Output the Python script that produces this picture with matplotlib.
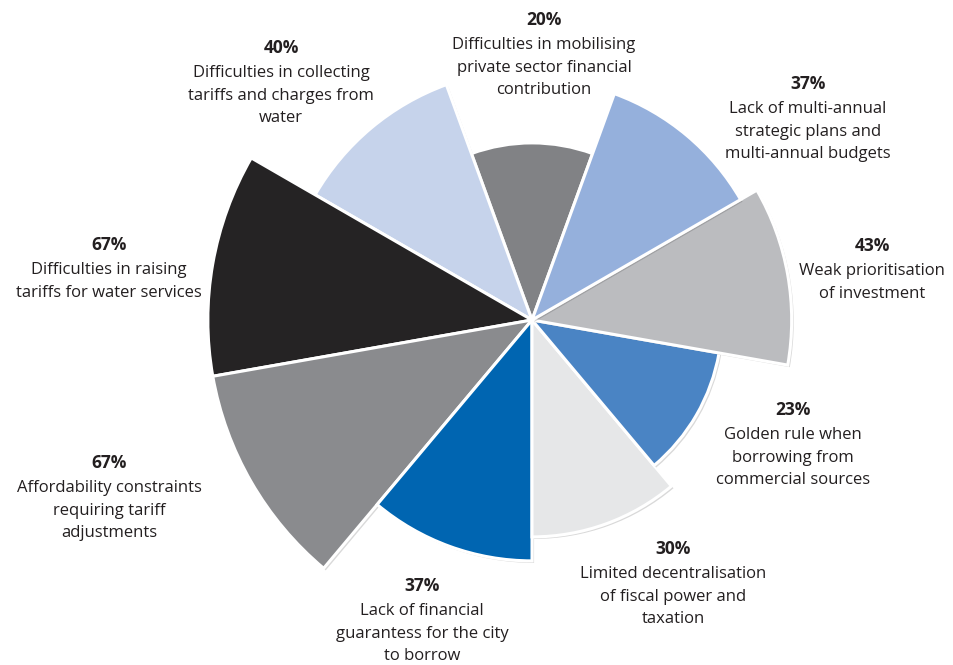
import numpy as np
import matplotlib
matplotlib.use("Agg")
import matplotlib.pyplot as plt
import matplotlib.patheffects as pe

plt.rcParams["font.family"] = ["Open Sans", "DejaVu Sans"]

# Survey obstacles, counter-clockwise starting from the top wedge
labels = [
    "Difficulties in mobilising\nprivate sector financial\ncontribution",
    "Difficulties in collecting\ntariffs and charges from\nwater",
    "Difficulties in raising\ntariffs for water services",
    "Affordability constraints\nrequiring tariff\nadjustments",
    "Lack of financial\nguarantess for the city\nto borrow",
    "Limited decentralisation\nof fiscal power and\ntaxation",
    "Golden rule when\nborrowing from\ncommercial sources",
    "Weak prioritisation\nof investment",
    "Lack of multi-annual\nstrategic plans and\nmulti-annual budgets",
]
values = [20, 40, 67, 67, 37, 30, 23, 43, 37]
colors = ["#818285", "#c6d3eb", "#252324", "#8a8b8e", "#0065b1",
          "#e6e7e8", "#4a84c4", "#bbbcbf", "#95b0dc"]

# label anchor (x, y) in pixels from top-left: percent line, then text lines below
label_pos = [(544, 20), (281, 48), (109, 245), (109, 463), (422, 586),
             (673, 549), (793, 410), (872, 246), (808, 84)]

W, H = 954, 665
fig = plt.figure(figsize=(W / 100, H / 100), dpi=100)

# polar axes centred on the rose, area of each wedge proportional to its share
cx, cy = 532, 320
rmax = 8.6
half = rmax * 39.6
ax = fig.add_axes([(cx - half) / W, (H - cy - half) / H, 2 * half / W, 2 * half / H],
                  projection="polar")

n = len(values)
width = 2 * np.pi / n
theta = np.deg2rad(90) + np.arange(n) * width
radii = np.sqrt(values)

bars = ax.bar(theta, radii, width=width, bottom=0, color=colors,
              edgecolor="white", linewidth=2.2, clip_on=False, zorder=2)
for b in bars:
    b.set_path_effects([pe.SimplePatchShadow(offset=(1.5, -1.5), shadow_rgbFace="#000000",
                                             alpha=0.15), pe.Normal()])

ax.set_ylim(0, rmax)
ax.set_axis_off()

for (x, y), v, lab in zip(label_pos, values, labels):
    fig.text(x / W, 1 - y / H, f"{v}%", ha="center", va="center",
             fontsize=12.5, fontweight="bold", color="#231f20")
    fig.text(x / W, 1 - (y + 17) / H, lab, ha="center", va="top",
             fontsize=12, color="#231f20", linespacing=1.55)

fig.savefig("out.png", dpi=100)
